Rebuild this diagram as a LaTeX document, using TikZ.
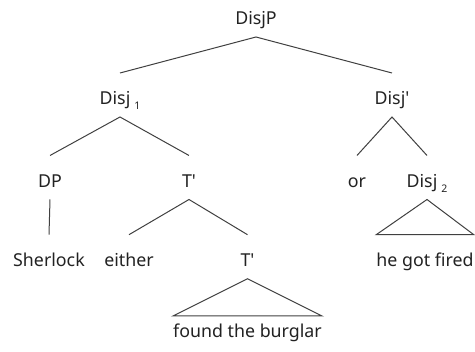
\documentclass[tikz,border=0pt]{standalone}
\usepackage{fontspec}
\setmainfont{Noto Sans}[Ligatures=TeXOff]
\usetikzlibrary{calc}
\definecolor{inkline}{HTML}{404040}
\definecolor{inktext}{HTML}{222222}
\newcommand{\sbs}[1]{\hspace{4pt}\raisebox{-5pt}{\fontsize{10.5}{10.5}\selectfont #1}}
\begin{document}
\begin{tikzpicture}[x=1pt,y=1pt,
  lbl/.style={anchor=base,inner sep=0pt,text=inktext,font=\fontsize{17.8}{20}\selectfont},
  edge/.style={draw=inkline,line width=1pt}]
\useasboundingbox (0,0) rectangle (475,352);
% labels
\node[lbl] (DisjP) at (256,327) {DisjP};
\node[lbl] (Disj1) at (120,247) {Disj\sbs{1}};
\node[lbl] (DisjB) at (392,247) {Disj'};
\node[lbl] (DP)    at (50,164.5) {DP};
\node[lbl] (Tb1)   at (189,164.5) {T'};
\node[lbl] (Or)    at (357,164.5) {or};
\node[lbl] (Disj2) at (427,164.5) {Disj\sbs{2}};
\node[lbl] (Sher)  at (49,85.3) {Sherlock};
\node[lbl] (Either) at (129,85.3) {either};
\node[lbl] (Tb2)   at (247.5,85.3) {T'};
\node[lbl] (Fired) at (425,85.3) {he got fired};
\node[lbl] (Found) at (247.5,14) {found the burglar};
% branch end points
\foreach \n in {DisjP,Disj1,DisjB,DP,Tb1,Disj2,Tb2}
  \coordinate (\n-lo) at ($(\n.base)+(0,-12)$);
\foreach \n in {Disj1,DisjB,DP,Tb1,Or,Disj2,Sher,Either,Tb2}
  \coordinate (\n-hi) at ($(\n.base)+(0,32)$);
% branches
\draw[edge] (Disj1-hi) -- (DisjP-lo) -- (DisjB-hi);
\draw[edge] (DP-hi) -- (Disj1-lo) -- (Tb1-hi);
\draw[edge] (Or-hi) -- (DisjB-lo) -- (Disj2-hi);
\draw[edge] (DP-lo) -- (Sher-hi);
\draw[edge] (Either-hi) -- (Tb1-lo) -- (Tb2-hi);
% triangles over unanalysed phrases
\draw[edge] (Disj2-lo) -- ($(Fired.base west)+(0,32)$) -- ($(Fired.base east)+(0,32)$) -- cycle;
\draw[edge] (Tb2-lo) -- ($(Found.base west)+(0,22)$) -- ($(Found.base east)+(0,22)$) -- cycle;
\end{tikzpicture}
\end{document}
